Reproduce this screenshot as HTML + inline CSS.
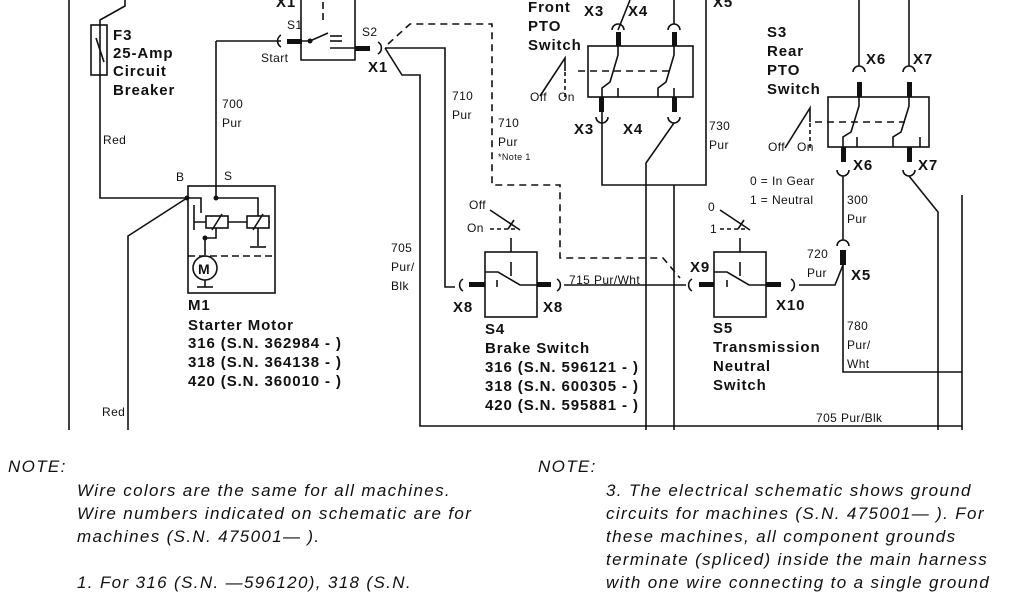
<!DOCTYPE html>
<html><head><meta charset="utf-8"><style>
html,body{margin:0;padding:0;background:#fff;}
svg{display:block;}
text{font-family:"Liberation Sans",Arial,sans-serif;fill:#111;}
.b{font-weight:bold;font-size:15px;letter-spacing:0.9px;}
.s{font-size:12px;letter-spacing:0.4px;}
.n{font-size:17px;font-style:italic;letter-spacing:1.35px;}
</style></head><body>
<svg width="1024" height="600" viewBox="0 0 1024 600" xmlns="http://www.w3.org/2000/svg">
<g stroke="#111" stroke-width="1.6" fill="none">
<line x1="69" y1="0" x2="69" y2="430"/>
<polyline points="125,0 125,6 100,20 100,198 187,198"/>
<rect x="91" y="25" width="16" height="50"/>
<line x1="96" y1="38" x2="104" y2="62"/>
<polyline points="187,198 128,236 128,430"/>
<rect x="188" y="186" width="87" height="107"/>
<line x1="188" y1="256" x2="275" y2="256" stroke-dasharray="7,4"/>
<polyline points="216,41 216,198 258,198 258,217"/>
<polyline points="187,198 201,198 201,213"/>
<line x1="194" y1="205" x2="194" y2="230"/>
<line x1="194" y1="222" x2="270" y2="222"/>
<rect x="206" y="216" width="22" height="12" fill="#fff"/>
<rect x="247" y="216" width="22" height="12" fill="#fff"/>
<line x1="212" y1="230" x2="222" y2="214"/>
<line x1="253" y1="230" x2="263" y2="214"/>
<polyline points="216,228 216,238 205,238 205,255"/>
<line x1="258" y1="228" x2="258" y2="246"/>
<line x1="250" y1="247" x2="266" y2="247"/>
<circle cx="205" cy="268" r="12"/>
<line x1="205" y1="280" x2="205" y2="287"/>
<line x1="197" y1="287" x2="213" y2="287"/>
<polyline points="301,0 301,60 355,60 355,0"/>
<line x1="323" y1="2" x2="323" y2="22" stroke-dasharray="7,4"/>
<polyline points="302,41 310,41 328,33"/>
<line x1="330" y1="36" x2="342" y2="36"/>
<line x1="330" y1="41" x2="342" y2="41"/>
<line x1="330" y1="48" x2="362" y2="48"/>
<path d="M281,35 A7,7 0 0 0 281,47"/>
<line x1="281" y1="41" x2="216" y2="41"/>
<path d="M378,42 A7,7 0 0 1 378,54"/>
<polyline points="385,48 445,48 445,287 455,287"/>
<polyline points="385,48 402,75 420,75 420,426 962,426"/>
<polyline points="388,44 410,24 492,24 492,185 560,185 560,258 663,258 680,278" stroke-dasharray="7,5"/>
<rect x="588" y="46" width="105" height="51"/>
<polyline points="602,112 602,185 706,185 706,0"/>
<path d="M612,30 A6,6 0 0 1 624,30"/><path d="M668,30 A6,6 0 0 1 680,30"/>
<line x1="618" y1="30" x2="630" y2="0"/><line x1="674" y1="24" x2="674" y2="0"/>
<polyline points="618,46 618,55 610,82 602,88 602,97"/>
<polyline points="674,46 674,55 666,82 658,88 658,97"/>
<line x1="618" y1="88" x2="618" y2="97"/><line x1="674" y1="88" x2="674" y2="97"/>
<line x1="578" y1="71" x2="672" y2="71" stroke-dasharray="7,5"/>
<polyline points="540,96 565,58 565,71"/>
<line x1="565" y1="72" x2="565" y2="97" stroke-dasharray="4,3"/>
<path d="M596,117 A6,6 0 0 0 608,117"/><path d="M668,117 A6,6 0 0 0 680,117"/>
<polyline points="674,123 646,163 646,430"/>
<line x1="674" y1="185" x2="674" y2="430"/>
<rect x="828" y="97" width="101" height="50"/>
<line x1="859" y1="0" x2="859" y2="66"/><line x1="909" y1="0" x2="909" y2="66"/>
<path d="M853,72 A6,6 0 0 1 865,72"/><path d="M903,72 A6,6 0 0 1 915,72"/>
<polyline points="859,97 859,106 851,132 843,137 843,147"/>
<polyline points="909,97 909,106 901,132 893,137 893,147"/>
<line x1="857" y1="137" x2="857" y2="147"/><line x1="920" y1="137" x2="920" y2="147"/>
<line x1="815" y1="122" x2="905" y2="122" stroke-dasharray="7,5"/>
<polyline points="785,148 810,108 810,122"/>
<line x1="810" y1="123" x2="810" y2="148" stroke-dasharray="4,3"/>
<path d="M837,170 A6,6 0 0 0 849,170"/><path d="M903,170 A6,6 0 0 0 915,170"/>
<line x1="843" y1="176" x2="843" y2="240"/>
<path d="M837,246 A6,6 0 0 1 849,246"/>
<polyline points="843,265 835,285 799,285"/>
<polyline points="843,265 843,372 962,372"/>
<polyline points="909,176 938,212 938,430"/>
<line x1="962" y1="195" x2="962" y2="430"/>
<rect x="485" y="252" width="52" height="65"/>
<path d="M463,279 A7,7 0 0 0 463,291"/>
<polyline points="485,272 498,272 520,285 537,285"/>
<line x1="497" y1="280" x2="497" y2="287"/>
<line x1="511" y1="238" x2="511" y2="252"/><line x1="511" y1="262" x2="511" y2="276"/>
<polyline points="490,210 520,230"/><line x1="490" y1="229" x2="518" y2="229" stroke-dasharray="4,3"/><line x1="508" y1="229" x2="514" y2="220"/>
<path d="M557,279 A7,7 0 0 1 557,291"/>
<line x1="564" y1="285" x2="686" y2="285"/>
<rect x="714" y="252" width="52" height="65"/>
<path d="M692,279 A7,7 0 0 0 692,291"/>
<polyline points="714,272 727,272 749,285 766,285"/>
<line x1="727" y1="280" x2="727" y2="287"/>
<line x1="740" y1="238" x2="740" y2="252"/><line x1="740" y1="262" x2="740" y2="276"/>
<polyline points="720,210 750,230"/><line x1="720" y1="229" x2="748" y2="229" stroke-dasharray="4,3"/><line x1="738" y1="229" x2="744" y2="220"/>
<path d="M791,279 A7,7 0 0 1 791,291"/>
</g>
<g fill="#111">
<circle cx="187" cy="198" r="2.5"/><circle cx="216" cy="198" r="2.5"/><circle cx="205" cy="238" r="2.5"/><circle cx="310" cy="41" r="2.5"/>
<rect x="287" y="39" width="15" height="5"/><rect x="355" y="46" width="15" height="5"/>
<rect x="616" y="32" width="5" height="14"/><rect x="672" y="32" width="5" height="14"/>
<rect x="599" y="97" width="5" height="15"/><rect x="672" y="97" width="5" height="15"/>
<rect x="857" y="82" width="5" height="15"/><rect x="907" y="82" width="5" height="15"/>
<rect x="841" y="147" width="5" height="15"/><rect x="907" y="147" width="5" height="15"/>
<rect x="840" y="250" width="6" height="15"/>
<rect x="469" y="282" width="16" height="5"/><rect x="537" y="282" width="14" height="5"/>
<rect x="699" y="282" width="15" height="5"/><rect x="766" y="282" width="15" height="5"/>
</g>
<text x="198" y="274" font-size="14" font-weight="bold">M</text>
<g class="b">
<text x="113" y="40">F3</text><text x="113" y="58">25-Amp</text><text x="113" y="76">Circuit</text><text x="113" y="95">Breaker</text>
<text x="276" y="7">X1</text><text x="368" y="72">X1</text>
<text x="528" y="12">Front</text><text x="528" y="31">PTO</text><text x="528" y="50">Switch</text>
<text x="584" y="16">X3</text><text x="628" y="16">X4</text><text x="713" y="7">X5</text>
<text x="574" y="134">X3</text><text x="623" y="134">X4</text>
<text x="767" y="37">S3</text><text x="767" y="56">Rear</text><text x="767" y="75">PTO</text><text x="767" y="94">Switch</text>
<text x="866" y="64">X6</text><text x="913" y="64">X7</text><text x="853" y="170">X6</text><text x="918" y="170">X7</text>
<text x="453" y="312">X8</text><text x="543" y="312">X8</text><text x="690" y="272">X9</text><text x="776" y="310">X10</text><text x="851" y="280">X5</text>
<text x="188" y="310">M1</text><text x="188" y="330">Starter Motor</text><text x="188" y="348">316 (S.N. 362984 - )</text><text x="188" y="367">318 (S.N. 364138 - )</text><text x="188" y="386">420 (S.N. 360010 - )</text>
<text x="485" y="334">S4</text><text x="485" y="353">Brake Switch</text><text x="485" y="372">316 (S.N. 596121 - )</text><text x="485" y="391">318 (S.N. 600305 - )</text><text x="485" y="410">420 (S.N. 595881 - )</text>
<text x="713" y="333">S5</text><text x="713" y="352">Transmission</text><text x="713" y="371">Neutral</text><text x="713" y="390">Switch</text>
</g>
<g class="s">
<text x="103" y="144">Red</text><text x="102" y="416">Red</text><text x="176" y="181">B</text><text x="224" y="180">S</text>
<text x="287" y="29">S1</text><text x="261" y="62">Start</text><text x="362" y="36">S2</text>
<text x="222" y="108">700</text><text x="222" y="127">Pur</text>
<text x="452" y="100">710</text><text x="452" y="119">Pur</text>
<text x="498" y="127">710</text><text x="498" y="146">Pur</text><text x="498" y="160" font-size="9">*Note 1</text>
<text x="391" y="252">705</text><text x="391" y="271">Pur/</text><text x="391" y="290">Blk</text>
<text x="709" y="130">730</text><text x="709" y="149">Pur</text>
<text x="530" y="101">Off</text><text x="558" y="101">On</text><text x="768" y="151">Off</text><text x="797" y="151">On</text>
<text x="750" y="185">0 = In Gear</text><text x="750" y="204">1 = Neutral</text>
<text x="847" y="204">300</text><text x="847" y="223">Pur</text>
<text x="807" y="258">720</text><text x="807" y="277">Pur</text>
<text x="847" y="330">780</text><text x="847" y="349">Pur/</text><text x="847" y="368">Wht</text>
<text x="469" y="209">Off</text><text x="467" y="232">On</text><text x="708" y="211">0</text><text x="710" y="233">1</text>
<text x="569" y="284">715 Pur/Wht</text><text x="816" y="422">705 Pur/Blk</text>
</g>
<g class="n">
<text x="8" y="472">NOTE:</text>
<text x="77" y="496">Wire colors are the same for all machines.</text>
<text x="77" y="519">Wire numbers indicated on schematic are for</text>
<text x="77" y="542">machines (S.N. 475001—    ).</text>
<text x="77" y="588">1. For 316 (S.N.    —596120), 318 (S.N.</text>
<text x="538" y="472">NOTE:</text>
<text x="606" y="496">3. The electrical schematic shows ground</text>
<text x="606" y="519">circuits for machines (S.N. 475001—    ). For</text>
<text x="606" y="542">these machines, all component grounds</text>
<text x="606" y="565">terminate (spliced) inside the main harness</text>
<text x="606" y="588">with one wire connecting to a single ground</text>
</g>
</svg>
</body></html>
